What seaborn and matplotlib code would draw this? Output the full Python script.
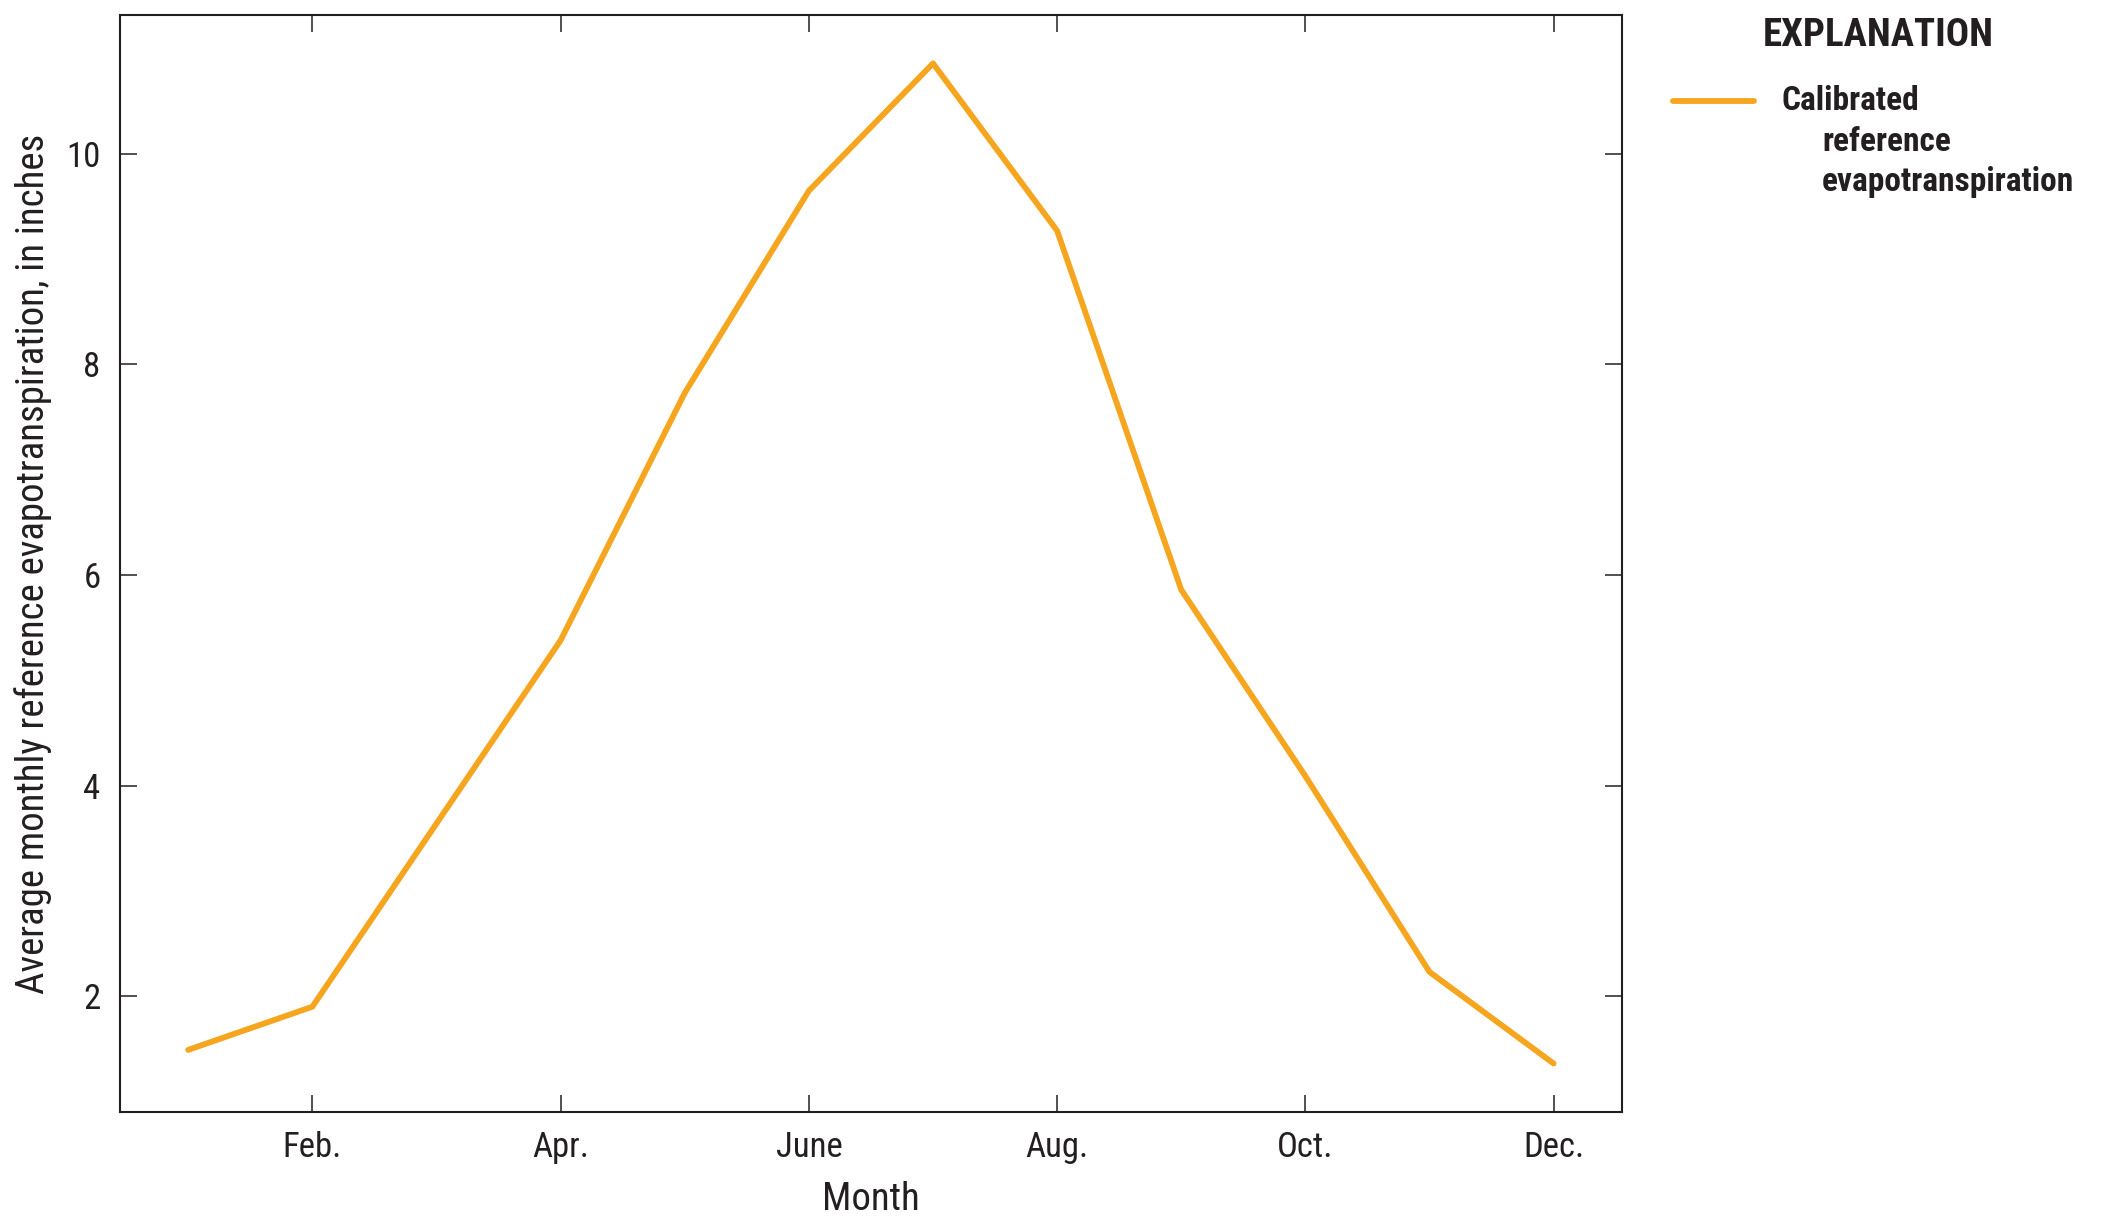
import matplotlib
matplotlib.use("Agg")
import matplotlib.pyplot as plt
import seaborn as sns
import pandas as pd
from matplotlib import font_manager
from matplotlib.lines import Line2D

# average monthly reference ET
months = [1, 2, 3, 4, 5, 6, 7, 8, 9, 10, 11, 12]
et_inches = [1.49, 1.90, 3.64, 5.38, 7.73, 9.65, 10.86, 9.27, 5.86, 4.09, 2.23, 1.36]
tick_months = [2, 4, 6, 8, 10, 12]
tick_labels = ["Feb.", "Apr.", "June", "Aug.", "Oct.", "Dec."]
y_ticks = [2, 4, 6, 8, 10]

df = pd.DataFrame({"Month": months, "ET": et_inches})

sns.set_theme(style="ticks")

# condensed face, close to the Univers Condensed of the original
names = {f.name for f in font_manager.fontManager.ttflist}
narrow = "DejaVu Sans"
for cand in ["Roboto Condensed", "Archivo Narrow", "Barlow Semi Condensed",
             "Asap Condensed", "Liberation Sans"]:
    if cand in names:
        narrow = cand
        break
plt.rcParams["font.family"] = [narrow, "DejaVu Sans"]

ink = "#231f20"
orange = "#f6a51e"

fig = plt.figure(figsize=(21.16, 12.26), dpi=100)
ax = fig.add_axes([0.0567, 0.0930, 0.7098, 0.8948])

sns.lineplot(data=df, x="Month", y="ET", ax=ax, color=orange, linewidth=4.2, legend=False)

ax.set_xlim(0.45, 12.55)
ax.set_ylim(0.9, 11.32)
ax.set_xticks(tick_months)
ax.set_xticklabels(tick_labels)
ax.set_yticks(y_ticks)

ax.tick_params(direction="in", length=12, width=1.1, colors=ink, labelsize=25,
               top=True, right=True)
ax.tick_params(axis="x", pad=14)
ax.tick_params(axis="y", pad=14)
for s in ax.spines.values():
    s.set_linewidth(1.5)
    s.set_color(ink)

ax.set_xlabel("Month", fontsize=28, color=ink, labelpad=12)
ax.set_ylabel("Average monthly reference evapotranspiration, in inches",
              fontsize=28, color=ink, labelpad=10)

# explanation box on the right
fig.text(0.8875, 0.971, "EXPLANATION", fontsize=28, fontweight="bold",
         color=ink, ha="center", va="center")
fig.add_artist(Line2D([0.7906, 0.8290], [0.9176, 0.9176], color=orange, linewidth=4.2))
fig.text(0.8417, 0.9176, "Calibrated", fontsize=24, fontweight="bold",
         color=ink, ha="left", va="center")
fig.text(0.8611, 0.8845, "reference", fontsize=24, fontweight="bold",
         color=ink, ha="left", va="center")
fig.text(0.8611, 0.8514, "evapotranspiration", fontsize=24, fontweight="bold",
         color=ink, ha="left", va="center")

fig.savefig("out.png", dpi=100, facecolor="white")
